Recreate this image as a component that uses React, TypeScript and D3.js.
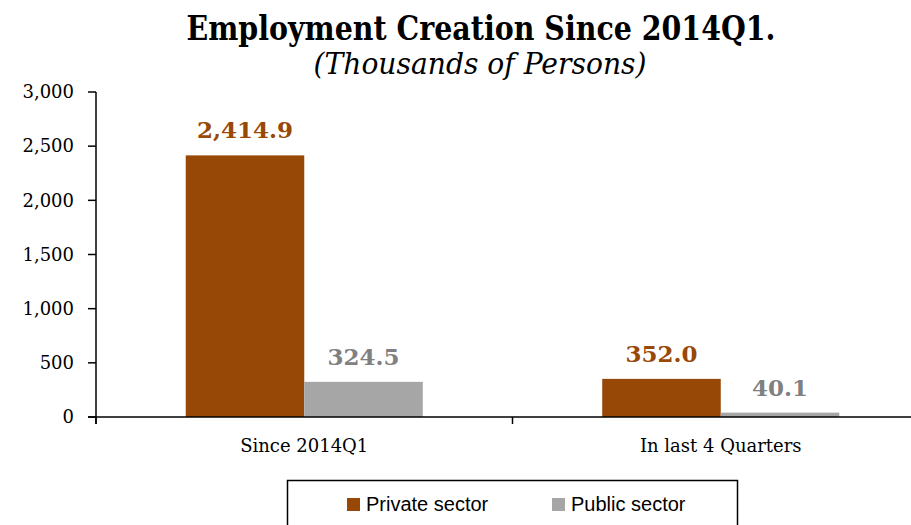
import React from "react";
import * as d3 from "d3";

const categories = ["Since 2014Q1", "In last 4 Quarters"];
const seriesNames = ["Private sector", "Public sector"];
const privateValues = [2414.9, 352.0];
const publicValues = [324.5, 40.1];
const yTicks = [0, 500, 1000, 1500, 2000, 2500, 3000];
const titleText = "Employment Creation Since 2014Q1.";
const subtitleText = "(Thousands of Persons)";

const W = 911;
const H = 525;
const barColors = ["#974706", "#A6A6A6"];
const labelColors = ["#984807", "#808080"];

export default function App() {
  const x0 = d3.scaleBand<string>().domain(categories).range([96, 929]).paddingInner(0).paddingOuter(0);
  const x1 = d3
    .scaleBand<string>()
    .domain(seriesNames)
    .range([0, x0.bandwidth()])
    .paddingInner(0)
    .paddingOuter(0.757);
  const y = d3.scaleLinear().domain([0, 3000]).range([417, 92]);
  const fmtTick = d3.format(",");
  const fmtLabel = d3.format(",.1f");
  const series = [privateValues, publicValues];

  const serif = "'DejaVu Serif', 'Liberation Serif', serif";
  const sans = "'Liberation Sans', Arial, sans-serif";

  const catTicks = [96, ...categories.map((c) => (x0(c) as number) + x0.bandwidth())];

  return (
    <svg
      width={W}
      height={H}
      viewBox={`0 0 ${W} ${H}`}
      style={{ position: "absolute", left: 0, top: 0, background: "#fff" }}
    >
      <rect x={0} y={0} width={W} height={H} fill="#fff" />
      {/* Title */}
      <text
        x={481}
        y={40}
        textAnchor="middle"
        fontFamily={serif}
        fontWeight="bold"
        fontSize={33}
        textLength={589}
        lengthAdjust="spacingAndGlyphs"
        fill="#000"
      >
        {titleText}
      </text>
      <text
        x={480}
        y={74}
        textAnchor="middle"
        fontFamily={serif}
        fontStyle="italic"
        fontSize={30}
        textLength={333}
        lengthAdjust="spacingAndGlyphs"
        fill="#000"
      >
        {subtitleText}
      </text>

      {/* Bars */}
      {categories.map((c, ci) =>
        seriesNames.map((s, si) => {
          const v = series[si][ci];
          const bx = (x0(c) as number) + (x1(s) as number);
          const by = y(v);
          return (
            <g key={c + s}>
              <rect x={bx} y={by} width={x1.bandwidth()} height={y(0) - by} fill={barColors[si]} />
              <text
                x={bx + x1.bandwidth() / 2}
                y={by - 17}
                textAnchor="middle"
                fontFamily={serif}
                fontWeight="bold"
                fontSize={23}
                fill={labelColors[si]}
              >
                {fmtLabel(v)}
              </text>
            </g>
          );
        })
      )}

      {/* Y axis */}
      <line x1={96} x2={96} y1={y(3000)} y2={424} stroke="#000" strokeWidth={1.5} />
      {yTicks.map((t) => (
        <g key={t}>
          <line x1={88} x2={96} y1={y(t)} y2={y(t)} stroke="#000" strokeWidth={1.5} />
          <text
            x={74}
            y={y(t)}
            dy="0.35em"
            textAnchor="end"
            fontFamily={serif}
            fontSize={18}
            fill="#000"
          >
            {fmtTick(t)}
          </text>
        </g>
      ))}

      {/* X axis */}
      <line x1={88} x2={W} y1={y(0)} y2={y(0)} stroke="#000" strokeWidth={1.5} />
      {catTicks.map((tx, i) => (
        <line key={i} x1={tx} x2={tx} y1={y(0)} y2={424} stroke="#000" strokeWidth={1.5} />
      ))}
      {categories.map((c) => (
        <text
          key={c}
          x={(x0(c) as number) + x0.bandwidth() / 2}
          y={452}
          textAnchor="middle"
          fontFamily={serif}
          fontSize={18}
          fill="#000"
        >
          {c}
        </text>
      ))}

      {/* Legend */}
      <rect x={287.5} y={480.5} width={450} height={60} fill="#fff" stroke="#000" strokeWidth={1.5} />
      {seriesNames.map((s, si) => {
        const lx = si === 0 ? 347 : 552;
        return (
          <g key={s}>
            <rect x={lx} y={498} width={13} height={13} fill={barColors[si]} />
            <text x={lx + 19} y={511} fontFamily={sans} fontSize={20} fill="#000">
              {s}
            </text>
          </g>
        );
      })}
    </svg>
  );
}
